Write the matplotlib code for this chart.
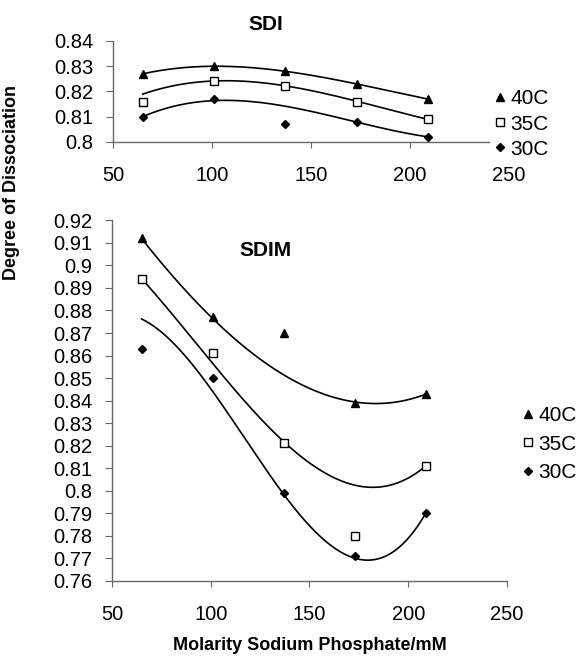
import matplotlib
matplotlib.use('Agg')
import matplotlib.pyplot as plt
import numpy as np

plt.rcParams['font.family'] = ['Liberation Sans', 'DejaVu Sans']

molarity = [65, 101, 137, 173, 209]
series_labels = ['40C', '35C', '30C']

# SDI measured points
sdi_40 = [0.827, 0.830, 0.828, 0.823, 0.817]
sdi_35 = [0.816, 0.824, 0.822, 0.816, 0.809]
sdi_30 = [0.810, 0.817, 0.807, 0.808, 0.802]
# SDI trend curves (values of the drawn curve at each molarity)
sdi_trend_40 = [0.827, 0.830, 0.828, 0.823, 0.817]
sdi_trend_35 = [0.819, 0.824, 0.8225, 0.816, 0.809]
sdi_trend_30 = [0.810, 0.8165, 0.814, 0.808, 0.802]

# SDIM measured points
sdim_40 = [0.912, 0.877, 0.870, 0.839, 0.843]
sdim_35 = [0.894, 0.861, 0.821, 0.780, 0.811]
sdim_30 = [0.863, 0.850, 0.799, 0.771, 0.790]
# SDIM trend curves
sdim_trend_40 = [0.912, 0.876, 0.852, 0.839, 0.843]
sdim_trend_35 = [0.894, 0.857, 0.821, 0.803, 0.811]
sdim_trend_30 = [0.876, 0.845, 0.797, 0.771, 0.790]

x_ticks = [50, 100, 150, 200, 250]
sdi_yticks = [0.80, 0.81, 0.82, 0.83, 0.84]
sdim_yticks = [0.76 + 0.01 * i for i in range(17)]

marker_styles = {
    '40C': dict(marker='^', markerfacecolor='black', markeredgecolor='black', markersize=6),
    '35C': dict(marker='s', markerfacecolor='white', markeredgecolor='black', markersize=5.5, markeredgewidth=1.0),
    '30C': dict(marker='D', markerfacecolor='black', markeredgecolor='black', markersize=4.5),
}

TICK_FS = 14.5
AXIS_COLOR = '#666666'


def trend_curve(ax, x, y):
    coefs = np.polyfit(x, y, 3)
    xs = np.linspace(min(x), max(x), 200)
    ax.plot(xs, np.polyval(coefs, xs), color='black', linewidth=1.2, zorder=2)


def style_axes(ax, yticks, ylabels):
    for side in ['top', 'right']:
        ax.spines[side].set_visible(False)
    for side in ['left', 'bottom']:
        ax.spines[side].set_color(AXIS_COLOR)
        ax.spines[side].set_linewidth(1.0)
    ax.set_xlim(50, 250)
    ax.set_xticks(x_ticks)
    ax.set_xticklabels([str(t) for t in x_ticks], fontsize=TICK_FS)
    ax.set_yticks(yticks)
    ax.set_yticklabels(ylabels, fontsize=TICK_FS)
    ax.tick_params(axis='x', direction='out', length=4, color=AXIS_COLOR, pad=13)
    ax.tick_params(axis='y', direction='out', length=5, color=AXIS_COLOR, pad=9)


def legend_handles():
    return [plt.Line2D([], [], linestyle='none', **marker_styles[s]) for s in series_labels]


fig = plt.figure(figsize=(5.82, 6.57), dpi=100)

# top panel: SDI
ax1 = fig.add_axes([0.1942, 0.7839, 0.6804, 0.1537])
for lab, pts, trend in zip(series_labels, [sdi_40, sdi_35, sdi_30],
                           [sdi_trend_40, sdi_trend_35, sdi_trend_30]):
    trend_curve(ax1, molarity, trend)
    ax1.plot(molarity, pts, linestyle='none', zorder=3, **marker_styles[lab])
ax1.set_ylim(0.80, 0.84)
style_axes(ax1, sdi_yticks, ['0.8', '0.81', '0.82', '0.83', '0.84'])
ax1.spines['bottom'].set_bounds(50, 240)
ax1.xaxis.get_major_ticks()[-1].tick1line.set_visible(False)
ax1.text(0.385, 1.16, 'SDI', transform=ax1.transAxes, ha='center', va='center',
         fontsize=15, fontweight='bold')
fig.legend(legend_handles(), series_labels, loc='center left',
           bbox_to_anchor=(0.83, 1 - 124 / 657), frameon=False, fontsize=15,
           handlelength=0.6, handletextpad=0.2, labelspacing=0.3, borderpad=0)

# bottom panel: SDIM
ax2 = fig.add_axes([0.1924, 0.1157, 0.6787, 0.549])
for lab, pts, trend in zip(series_labels, [sdim_40, sdim_35, sdim_30],
                           [sdim_trend_40, sdim_trend_35, sdim_trend_30]):
    trend_curve(ax2, molarity, trend)
    ax2.plot(molarity, pts, linestyle='none', zorder=3, **marker_styles[lab])
ax2.set_ylim(0.76, 0.92)
style_axes(ax2, sdim_yticks, ['%g' % round(v, 2) for v in sdim_yticks])
ax2.text(0.388, 0.915, 'SDIM', transform=ax2.transAxes, ha='center', va='center',
         fontsize=15, fontweight='bold')
fig.legend(legend_handles(), series_labels, loc='center left',
           bbox_to_anchor=(0.878, 1 - 444 / 657), frameon=False, fontsize=15,
           handlelength=0.6, handletextpad=0.2, labelspacing=0.45, borderpad=0)

fig.text(12 / 582, 1 - 183 / 657, 'Degree of Dissociation', rotation=90,
         ha='center', va='center', fontsize=13, fontweight='bold')
fig.text(310 / 582, 1 - 645 / 657, 'Molarity Sodium Phosphate/mM',
         ha='center', va='center', fontsize=13, fontweight='bold')

fig.savefig('out.png', dpi=100)
